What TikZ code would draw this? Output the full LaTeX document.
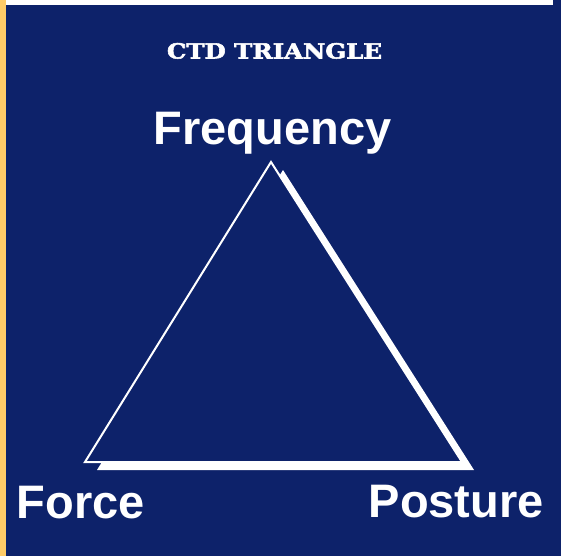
\documentclass[tikz,border=0pt]{standalone}
\usepackage{fontspec}
\setmainfont{Liberation Sans}
\newfontfamily\titlefont{DejaVu Serif Bold}[FakeBold=2.5]
\definecolor{bgblue}{RGB}{13,34,106}
\definecolor{stripe}{RGB}{255,204,104}
\begin{document}
\begin{tikzpicture}[x=1pt,y=-1pt,
  lbl/.style={inner sep=0pt,anchor=base west,text=white,font=\fontsize{47}{50}\selectfont\bfseries},
  edge/.style={draw=white,line width=2pt,line join=miter}]
\useasboundingbox (0,0) rectangle (561,556);
\fill[bgblue] (0,0) rectangle (561,556);
\fill[white] (5,0) rectangle (553,5.5);
\fill[stripe] (0,0) rectangle (5.5,556);
% title
\node[inner sep=0pt,anchor=base,text=white] (title) at (274.5,58.5)
  {\resizebox{215pt}{15.5pt}{\titlefont CTD TRIANGLE}};
% triangle vertices
\coordinate (A) at (271,162);
\coordinate (B) at (85,462);
\coordinate (C) at (462,462);
\coordinate (As) at (283,170);
\coordinate (Bs) at (97,470);
\coordinate (Cs) at (474,470);
\fill[white] (As) -- (Bs) -- (Cs) -- cycle;
\filldraw[fill=bgblue,edge] (A) -- (B) -- (C) -- cycle;
% labels
\node[lbl] (freq) at (153.6,145) {Frequency};
\node[lbl] (force) at (16.6,518) {Force};
\node[lbl] (post) at (368.5,517.5) {Posture};
\end{tikzpicture}
\end{document}
